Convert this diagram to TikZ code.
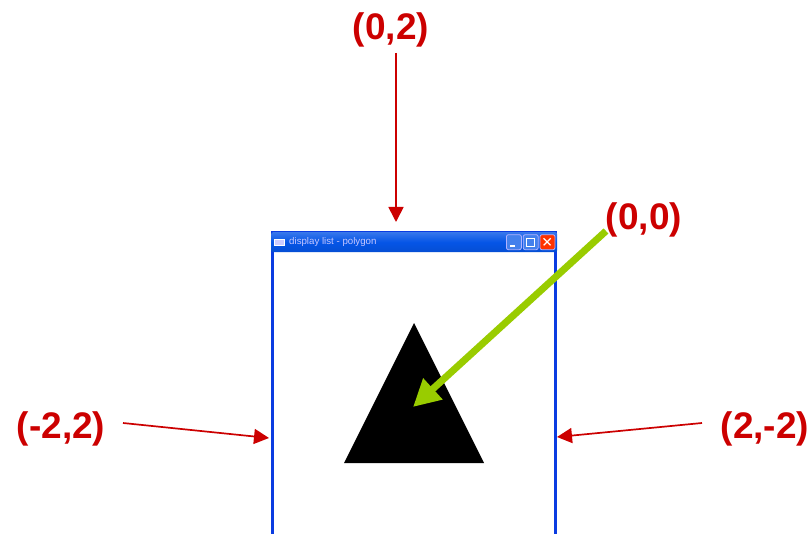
\documentclass[tikz,border=0pt]{standalone}
\usepackage{fontspec}
\setmainfont{Liberation Sans}
\usetikzlibrary{arrows,arrows.meta,positioning,calc}
\definecolor{labcol}{RGB}{204,0,0}
\definecolor{greencol}{RGB}{153,204,0}
\definecolor{framecol}{RGB}{10,60,225}
\definecolor{titlecol}{RGB}{5,85,230}
\tikzset{
  coordlab/.style = {font=\fontsize{37}{37}\selectfont\bfseries, text=labcol, inner sep=0pt},
  redflow/.style  = {-{Triangle[length=15pt,width=15pt]}, draw=labcol, line width=1.7pt},
  greenflow/.style = {-{Triangle[length=27pt,width=27pt]}, draw=greencol, line width=7pt},
  winbtn/.style   = {rectangle, rounded corners=2pt, draw=white!70!blue, line width=0.8pt,
                     fill=#1, minimum width=15pt, minimum height=15pt, inner sep=0pt},
}

\begin{document}
\begin{tikzpicture}[x=1pt,y=-1pt]
  \useasboundingbox (0,0) rectangle (810,534);
  \fill[white] (0,0) rectangle (810,534);

  % the window
  \node[rectangle, draw=framecol, line width=3pt, fill=white, anchor=north west,
        minimum width=283pt, minimum height=303pt, inner sep=0pt] (win) at (270.5,231) {};
  \node[rectangle, rounded corners=2pt, top color=titlecol!80!white, bottom color=titlecol!92!black,
        middle color=titlecol, anchor=north west,
        minimum width=286pt, minimum height=20pt, inner sep=0pt] (bar) at (271,232) {};
  \node[anchor=west, inner sep=0pt, font=\fontsize{9.7}{9.7}\selectfont, text=white!78!blue,
        xshift=18pt] (title) at (bar.west) {display list - polygon};
  \node[rectangle, fill=white!80!blue, draw=white, line width=0.5pt, minimum width=10pt,
        minimum height=6pt, inner sep=0pt, right=3pt of bar.west] (icon) {};
  \node[winbtn=red!60!orange, left=2pt of bar.east] (close) {};
  \node[winbtn=titlecol!75!white, left=1pt of close] (maxi) {};
  \node[winbtn=titlecol!75!white, left=1pt of maxi] (mini) {};
  \draw[white, line width=1.2pt] (close.north west) ++(4,4) -- ++(7,7) ++(0,-7) -- ++(-7,7);
  \draw[white, line width=1pt] ($(maxi.center)+(-4,-4)$) rectangle ($(maxi.center)+(4,4)$);
  \draw[white, line width=1.5pt] ($(mini.center)+(-4,4)$) -- ++(5,0);

  % the triangle
  \coordinate (apex) at (414,323);
  \coordinate (left) at (344,463);
  \coordinate (right) at (484,463);
  \fill[black] (apex) -- (left) -- (right) -- cycle;
  \coordinate (origin) at (413,407);

  % labels
  \node[coordlab] (top) at (391,30) {(0,2)};
  \node[coordlab] (mid) at (644,220) {(0,0)};
  \node[coordlab] (west) at (61,429) {(-2,2)};
  \node[coordlab] (east) at (765,429) {(2,-2)};

  \coordinate (topfrom) at (396,53);
  \coordinate (topto) at (396,222);
  \coordinate (westfrom) at (123,423);
  \coordinate (westto) at (269,438);
  \coordinate (eastfrom) at (702,423);
  \coordinate (eastto) at (557,437);
  \coordinate (midfrom) at (606,231);

  \draw[redflow] (topfrom) -- (topto);
  \draw[redflow] (westfrom) -- (westto);
  \draw[redflow] (eastfrom) -- (eastto);
  \draw[greenflow] (midfrom) -- (origin);
\end{tikzpicture}
\end{document}
